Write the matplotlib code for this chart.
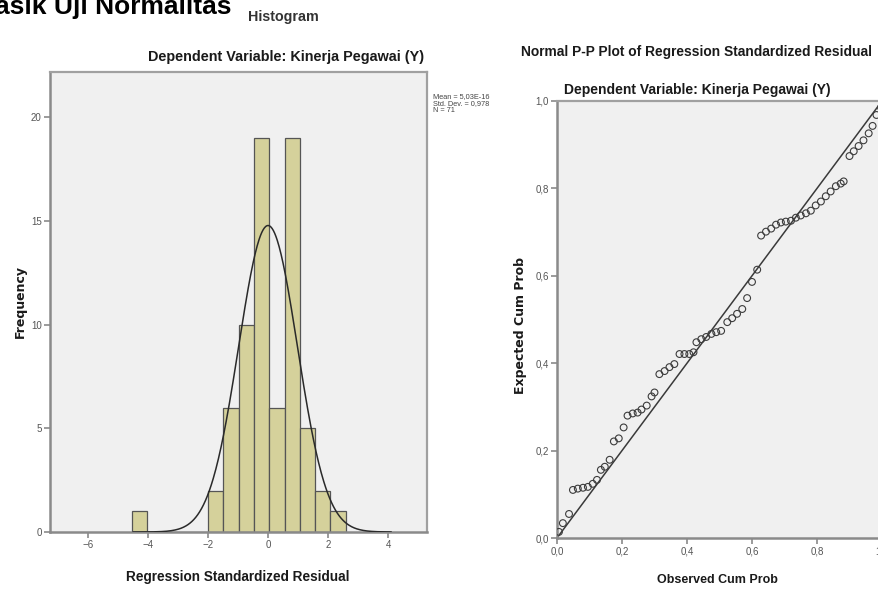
import numpy as np
import matplotlib
matplotlib.use("Agg")
import matplotlib.pyplot as plt


# ============================================================
# DATA
# ============================================================

# histogram of regression standardized residuals
BIN_EDGES = [-4.55, -4.04, -3.53, -3.02, -2.51, -2.00, -1.49, -0.98,
             -0.47, 0.04, 0.55, 1.06, 1.57, 2.08, 2.59]
BIN_COUNTS = [1, 0, 0, 0, 0, 2, 6, 10, 19, 6, 19, 5, 2, 1]

RESID_MEAN = 5.03e-16
RESID_STD = 0.978
RESID_N = 71

HIST_XTICKS = [-6, -4, -2, 0, 2, 4]
HIST_YTICKS = [0, 5, 10, 15, 20]

# normal P-P plot (observed vs expected cumulative probability)
OBSERVED_CUM = [
    0.006, 0.018, 0.037, 0.049, 0.064, 0.080, 0.095, 0.110, 0.123, 0.135,
    0.147, 0.162, 0.175, 0.190, 0.205, 0.217, 0.233, 0.248, 0.260, 0.276,
    0.291, 0.300, 0.315, 0.331, 0.346, 0.361, 0.377, 0.392, 0.407, 0.420,
    0.429, 0.444, 0.459, 0.475, 0.490, 0.505, 0.524, 0.539, 0.554, 0.570,
    0.585, 0.600, 0.616, 0.628, 0.643, 0.659, 0.674, 0.689, 0.704, 0.720,
    0.735, 0.750, 0.766, 0.781, 0.796, 0.812, 0.827, 0.842, 0.858, 0.873,
    0.882, 0.900, 0.913, 0.928, 0.943, 0.959, 0.971, 0.983, 0.997,
]
EXPECTED_CUM = [
    0.014, 0.034, 0.055, 0.110, 0.113, 0.115, 0.117, 0.124, 0.133, 0.156,
    0.163, 0.179, 0.221, 0.228, 0.253, 0.280, 0.285, 0.287, 0.294, 0.303,
    0.324, 0.333, 0.375, 0.382, 0.391, 0.398, 0.421, 0.421, 0.421, 0.425,
    0.448, 0.455, 0.460, 0.467, 0.471, 0.474, 0.494, 0.503, 0.513, 0.524,
    0.549, 0.586, 0.614, 0.692, 0.701, 0.708, 0.717, 0.722, 0.724, 0.726,
    0.733, 0.738, 0.743, 0.749, 0.761, 0.770, 0.782, 0.793, 0.805, 0.811,
    0.816, 0.874, 0.885, 0.897, 0.910, 0.926, 0.943, 0.968, 0.985,
]

PP_TICKS = [0.0, 0.2, 0.4, 0.6, 0.8, 1.0]
PP_TICK_LABELS = ["0,0", "0,2", "0,4", "0,6", "0,8", "1,0"]


# ============================================================
# STYLE
# ============================================================

NARROW = "Liberation Sans"
WIDE = "DejaVu Sans"

BAR_COLOR = "#d5d19b"
BAR_EDGE = "#555555"
PANEL_BG = "#f0f0f0"
SPINE_COLOR = "#8a8a8a"
TEXT_DARK = "#1a1a1a"
TICK_TEXT = "#555555"

W, H = 879, 589


def px_x(x):
    return x / W


def px_y(y):
    return 1 - y / H


def style_axes(ax):
    ax.set_facecolor(PANEL_BG)
    for side in ["top", "right"]:
        ax.spines[side].set_color("#a0a0a0")
        ax.spines[side].set_linewidth(1.6)
    for side in ["left", "bottom"]:
        ax.spines[side].set_color(SPINE_COLOR)
        ax.spines[side].set_linewidth(1.8)
    ax.tick_params(axis="both", direction="out", length=4, width=1.2,
                   color=SPINE_COLOR, labelsize=7, labelcolor=TICK_TEXT,
                   pad=2)
    for lab in ax.get_xticklabels() + ax.get_yticklabels():
        lab.set_family(NARROW)


fig = plt.figure(figsize=(W / 100, H / 100), dpi=100)
fig.patch.set_facecolor("white")


# ============================================================
# HISTOGRAM
# ============================================================

ax1 = fig.add_axes([px_x(50), px_y(532), px_x(427 - 50), (532 - 72) / H])

edges = np.array(BIN_EDGES)
counts = np.array(BIN_COUNTS)
widths = np.diff(edges)

ax1.bar(edges[:-1], counts, width=widths, align="edge",
        color=BAR_COLOR, edgecolor=BAR_EDGE, linewidth=0.9, zorder=2)

bin_width = widths.mean()
xs = np.linspace(-4.5, 4.1, 400)
curve = RESID_N * bin_width / (RESID_STD * np.sqrt(2 * np.pi)) * \
    np.exp(-0.5 * ((xs - RESID_MEAN) / RESID_STD) ** 2)
ax1.plot(xs, curve, color="#2a2a2a", linewidth=1.1, zorder=3)

ax1.set_xlim(-7.27, 5.3)
ax1.set_ylim(0, 22.17)
ax1.set_xticks(HIST_XTICKS)
ax1.set_yticks(HIST_YTICKS)
style_axes(ax1)

fig.text(px_x(20), px_y(301), "Frequency", rotation=90, ha="center",
         va="center", fontsize=9, fontweight="bold", family=WIDE,
         color=TEXT_DARK)
fig.text(px_x(238), px_y(577), "Regression Standardized Residual",
         ha="center", va="center", fontsize=9.8, fontweight="bold",
         family=NARROW, color=TEXT_DARK)
fig.text(px_x(283), px_y(17), "Histogram", ha="center", va="center",
         fontsize=10.3, fontweight="bold", family=NARROW, color="#333333")
fig.text(px_x(286), px_y(57), "Dependent Variable: Kinerja Pegawai (Y)",
         ha="center", va="center", fontsize=10.4, fontweight="bold",
         family=NARROW, color=TEXT_DARK)

stats = "Mean = 5,03E-16\nStd. Dev. = 0,978\nN = 71"
fig.text(px_x(433), px_y(93), stats, ha="left", va="top", fontsize=5.3,
         family=NARROW, color="#444444", linespacing=1.05)


# ============================================================
# NORMAL P-P PLOT
# ============================================================

ax2 = fig.add_axes([px_x(557), px_y(538), px_x(882 - 557), (538 - 101) / H])

ax2.plot([0, 1], [0, 1], color="#3a3a3a", linewidth=1.1, zorder=2)
ax2.scatter(OBSERVED_CUM, EXPECTED_CUM, s=24, facecolors="none",
            edgecolors="#3c3c3c", linewidths=0.8, zorder=3, clip_on=True)

ax2.set_xlim(0, 1)
ax2.set_ylim(0, 1)
ax2.set_xticks(PP_TICKS)
ax2.set_xticklabels(PP_TICK_LABELS)
ax2.set_yticks(PP_TICKS)
ax2.set_yticklabels(PP_TICK_LABELS)
style_axes(ax2)

fig.text(px_x(521), px_y(326), "Expected Cum Prob", rotation=90,
         ha="center", va="center", fontsize=9, fontweight="bold",
         family=WIDE, color=TEXT_DARK)
fig.text(px_x(717), px_y(580), "Observed Cum Prob", ha="center",
         va="center", fontsize=9, fontweight="bold", family=NARROW,
         color=TEXT_DARK)
fig.text(px_x(697), px_y(52),
         "Normal P-P Plot of Regression Standardized Residual",
         ha="center", va="center", fontsize=9.9, fontweight="bold",
         family=NARROW, color=TEXT_DARK)
fig.text(px_x(697), px_y(90), "Dependent Variable: Kinerja Pegawai (Y)",
         ha="center", va="center", fontsize=10, fontweight="bold",
         family=NARROW, color=TEXT_DARK)


# ============================================================
# CLIPPED PAGE HEADING
# ============================================================

fig.text(px_x(-5), px_y(14), "asik Uji Normalitas", ha="left",
         va="baseline", fontsize=19, fontweight="bold", family=NARROW,
         color="#000000")

fig.savefig("out.png", dpi=100)
